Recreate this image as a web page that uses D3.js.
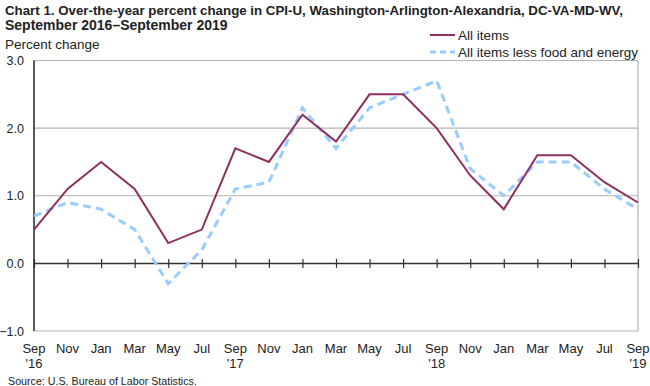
<!DOCTYPE html>
<html>
<head>
<meta charset="utf-8">
<script src="https://cdn.jsdelivr.net/npm/d3@7"></script>
<style>
  body { margin: 0; background: #fff; }
  svg text { font-family: "Liberation Sans", Arial, sans-serif; fill: #222; }
</style>
</head>
<body>
<svg id="chart" width="650" height="386"></svg>
<script>
var months = ["Sep", "Nov", "Jan", "Mar", "May", "Jul", "Sep", "Nov", "Jan", "Mar",
              "May", "Jul", "Sep", "Nov", "Jan", "Mar", "May", "Jul", "Sep"];
var years = ["'16", "", "", "", "", "", "'17", "", "", "", "", "", "'18", "", "", "", "", "", "'19"];
var allItems = [0.5, 1.1, 1.5, 1.1, 0.3, 0.5, 1.7, 1.5, 2.2, 1.8, 2.5, 2.5, 2.0, 1.3, 0.8, 1.6, 1.6, 1.2, 0.9];
var coreItems = [0.7, 0.9, 0.8, 0.5, -0.3, 0.2, 1.1, 1.2, 2.3, 1.7, 2.3, 2.5, 2.7, 1.4, 1.0, 1.5, 1.5, 1.1, 0.8];
var yTicks = [-1, 0, 1, 2, 3];

var margin = {top: 60.5, right: 12, bottom: 55, left: 34};
var width = 650 - margin.left - margin.right,
    height = 386 - margin.top - margin.bottom;

var chart = d3.select("#chart");

chart.append("text")
    .attr("x", 5).attr("y", 15)
    .style("font-size", "13.3px").style("font-weight", "bold")
    .text("Chart 1. Over-the-year percent change in CPI-U, Washington-Arlington-Alexandria, DC-VA-MD-WV,");
chart.append("text")
    .attr("x", 5).attr("y", 30)
    .style("font-size", "14px").style("font-weight", "bold")
    .text("September 2016\u2013September 2019");

var g = chart.append("g")
    .attr("transform", "translate(" + margin.left + "," + margin.top + ")");

var x = d3.scaleLinear().domain([0, months.length - 1]).range([0, width]);
var y = d3.scaleLinear().domain([-1, 3]).range([height, 0]);

// gridlines
g.selectAll(".grid")
    .data(yTicks.filter(function(d) { return d !== 0; }))
    .enter().append("line")
    .attr("x1", 0).attr("x2", width)
    .attr("y1", function(d) { return y(d); })
    .attr("y2", function(d) { return y(d); })
    .style("stroke", "#b3b3b3").style("stroke-width", 1.2);

// right border
g.append("line")
    .attr("x1", width).attr("x2", width)
    .attr("y1", 0).attr("y2", height)
    .style("stroke", "#b3b3b3").style("stroke-width", 1.2);

// y labels
g.selectAll(".ylab")
    .data(yTicks)
    .enter().append("text")
    .attr("x", -10)
    .attr("y", function(d) { return y(d) + 4.5; })
    .style("text-anchor", "end")
    .style("font-size", "12.5px")
    .text(function(d) { return d3.format(".1f")(d); });

chart.append("text")
    .attr("x", 5).attr("y", 49)
    .style("font-size", "13.5px")
    .text("Percent change");

// zero axis with ticks
var xAxis = d3.axisBottom(x)
    .tickValues(d3.range(months.length))
    .tickSize(9)
    .tickFormat("");
var ax = g.append("g")
    .attr("transform", "translate(0," + (y(0) - 4.5) + ")")
    .call(xAxis);
ax.select(".domain").remove();
ax.selectAll("line").style("stroke", "#333").style("stroke-width", 1.2);
g.append("line")
    .attr("x1", 0).attr("x2", width)
    .attr("y1", y(0)).attr("y2", y(0))
    .style("stroke", "#333").style("stroke-width", 1.5);

// left axis
g.append("line")
    .attr("x1", 0).attr("x2", 0)
    .attr("y1", 0).attr("y2", height)
    .style("stroke", "#222").style("stroke-width", 1.5);

// x labels
var xl = g.selectAll(".xlab")
    .data(months)
    .enter().append("text")
    .attr("x", function(d, i) { return x(i); })
    .attr("y", height + 22)
    .style("text-anchor", "middle")
    .style("font-size", "13px");
xl.append("tspan").text(function(d) { return d; });
xl.append("tspan")
    .attr("x", function(d, i) { return x(i); })
    .attr("dy", 15)
    .text(function(d, i) { return years[i]; });

var line = d3.line()
    .x(function(d, i) { return x(i); })
    .y(function(d) { return y(d); });

g.append("path")
    .datum(coreItems)
    .attr("d", line)
    .style("fill", "none")
    .style("stroke", "#99ccff")
    .style("stroke-width", 3)
    .style("stroke-dasharray", "8,5");

g.append("path")
    .datum(allItems)
    .attr("d", line)
    .style("fill", "none")
    .style("stroke", "#8e2f5f")
    .style("stroke-width", 2);

// legend
var legend = chart.append("g").attr("transform", "translate(430,35)");
legend.append("line")
    .attr("x1", 0).attr("x2", 25).attr("y1", 0).attr("y2", 0)
    .style("stroke", "#8e2f5f").style("stroke-width", 2);
legend.append("text").attr("x", 28).attr("y", 4.5).style("font-size", "13.5px").text("All items");
legend.append("line")
    .attr("x1", 0).attr("x2", 25).attr("y1", 17).attr("y2", 17)
    .style("stroke", "#99ccff").style("stroke-width", 3).style("stroke-dasharray", "6,4");
legend.append("text").attr("x", 28).attr("y", 21.5).style("font-size", "13.5px").text("All items less food and energy");

chart.append("text")
    .attr("x", 8).attr("y", 385)
    .style("font-size", "10.7px")
    .text("Source: U.S. Bureau of Labor Statistics.");
</script>
</body>
</html>
